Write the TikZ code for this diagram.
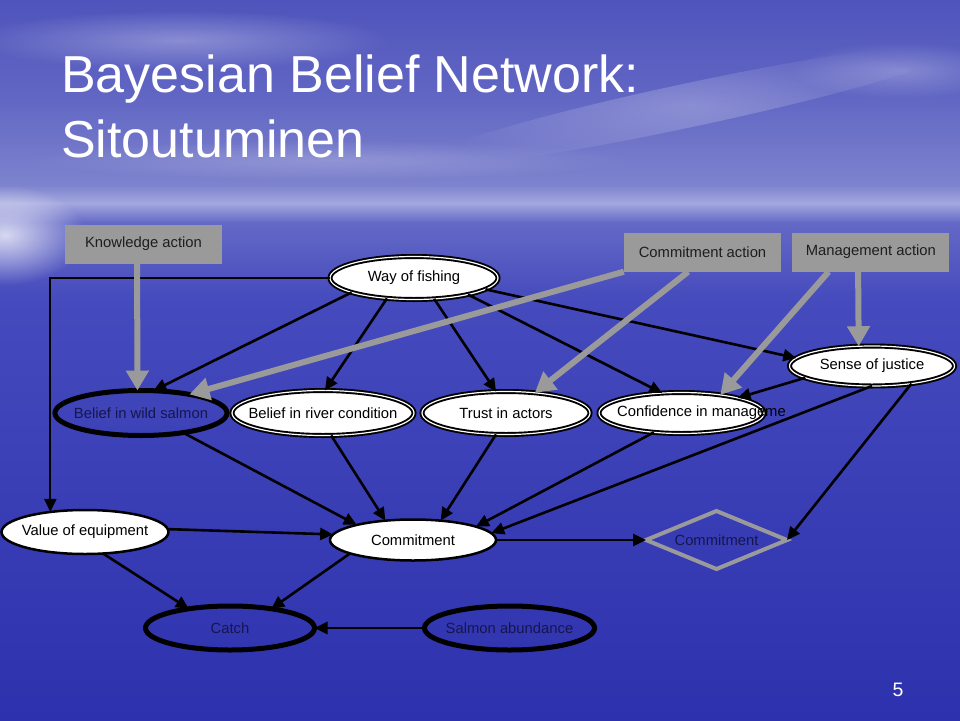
\documentclass[tikz,border=0pt]{standalone}
\usepackage{fontspec}
\setmainfont{Liberation Sans}
\usepackage{tikz}
\usetikzlibrary{arrows.meta,positioning,shapes.geometric,fadings}
\definecolor{boxgray}{HTML}{9A9A9A}
\definecolor{navytext}{HTML}{16164E}
\definecolor{textdark}{HTML}{1E1E1E}
\definecolor{skya}{HTML}{4F54BC}
\definecolor{skyb}{HTML}{6267C4}
\definecolor{skyc}{HTML}{7E83CE}
\definecolor{skyd}{HTML}{A4A8DE}
\definecolor{seaa}{HTML}{6469C6}
\definecolor{seab}{HTML}{454ABD}
\definecolor{seac}{HTML}{2D31AD}
\tikzfading[name=softblob,inner color=transparent!0,outer color=transparent!100]
\newcommand{\netfont}{\fontsize{14.8}{17}\selectfont}
\tikzstyle{chance}=[ellipse,draw=black,double=white,double distance=1.2pt,line width=1.9pt,fill=white,inner sep=0pt,outer sep=0pt]
\tikzstyle{keychance}=[ellipse,draw=black,line width=5pt,inner sep=0pt,outer sep=0pt]
\tikzstyle{simple}=[ellipse,draw=black,line width=2.5pt,fill=white,inner sep=0pt,outer sep=0pt]
\tikzstyle{utility}=[diamond,draw=boxgray,line width=4pt,inner sep=0pt,outer sep=0pt]
\tikzstyle{decision}=[rectangle,fill=boxgray,text=textdark,font=\netfont,
minimum width=157pt,minimum height=39pt,inner sep=0pt]
\tikzstyle{every label}=[font=\netfont,inner sep=0pt]

\begin{document}
\begin{tikzpicture}[x=1pt,y=-1pt,
            barrow/.style={-{Triangle[length=13pt,width=12pt]},line width=2.6pt,draw=black},
            garrow/.style={-{Triangle[length=20pt,width=22pt]},line width=6pt,draw=boxgray}]
            \useasboundingbox (0,0) rectangle (960,720);

            % BACKGROUND PART

            \shade[top color=skya,bottom color=skyb] (0,0) rectangle (960,100.5);
            \shade[top color=skyb,bottom color=skyc] (0,100) rectangle (960,185.5);
            \shade[top color=skyc,bottom color=skyd] (0,185) rectangle (960,203.5);
            \shade[top color=skyd,bottom color=seaa] (0,203) rectangle (960,222.5);
            \shade[top color=seaa,bottom color=seab] (0,222) rectangle (960,300.5);
            \shade[top color=seab,bottom color=seac] (0,300) rectangle (960,720);
            \fill[white,opacity=.3,path fading=softblob] (180,40) ellipse (210 and 30);
            \fill[white,opacity=.2,path fading=softblob] (330,160) ellipse (300 and 20);
            \fill[white,opacity=.25,path fading=softblob,rotate around={12:(690,105)}] (690,105) ellipse (280 and 22);
            \fill[white,opacity=.25,path fading=softblob] (900,70) ellipse (110 and 28);
            \fill[white,opacity=.75,path fading=softblob] (5,235) ellipse (80 and 50);

            % TITLE PART

            \node[anchor=base west,inner sep=0pt,text=white,font=\fontsize{52}{60}\selectfont] (title) at (61,92) {Bayesian Belief Network:};
            \node[anchor=base west,inner sep=0pt,text=white,font=\fontsize{52}{60}\selectfont] (subtitle) at (61,157) {Sitoutuminen};
            \node[text=white,font=\fontsize{19.5}{22}\selectfont] (page) at (898,690) {5};

            % ACTION PART

            \node[decision] (ka) at (143.5,244) {Knowledge action};
            \node[decision] (ca) at (702.5,252) {Commitment action};
            \node[decision,right=11pt of ca] (ma) {Management action};

            % BELIEF PART

            \node[chance,minimum width=168pt,minimum height=43pt,label=center:Way of fishing] (wof) at (414,278) {};
            \node[chance,minimum width=165pt,minimum height=40pt,label=center:Sense of justice] (soj) at (872,366) {};
            \node[keychance,minimum width=172pt,minimum height=45pt,label={[text=navytext]center:Belief in wild salmon}] (bws) at (141,413) {};
            \node[chance,right=5pt of bws,minimum width=182pt,minimum height=45pt,label=center:Belief in river condition] (brc) {};
            \node[chance,right=8pt of brc,minimum width=168pt,minimum height=43pt,label=center:Trust in actors] (tia) {};
            \node[chance,right=9pt of tia,minimum width=165pt,minimum height=41pt,label={[xshift=20pt]center:Confidence in manageme}] (cim) {};

            % COMMITMENT PART

            \node[simple,minimum width=167pt,minimum height=44pt,label=center:Value of equipment] (voe) at (85,532) {};
            \node[simple,minimum width=166pt,minimum height=41pt,label=center:Commitment] (com) at (413,540) {};
            \node[utility,right=150pt of com,minimum width=141pt,minimum height=58pt,label={[text=navytext]center:Commitment}] (dcom) {};
            \node[keychance,minimum width=169pt,minimum height=44pt,label={[text=navytext]center:Catch}] (catch) at (230,628) {};
            \node[keychance,right=110pt of catch,minimum width=170pt,minimum height=44pt,label={[text=navytext]center:Salmon abundance}] (sab) {};

            % Connections of Way of fishing

            \draw[barrow] (wof.193) -- (bws.61);
            \draw[barrow] (wof.217) -- (brc.85);
            \draw[barrow] (wof.314) -- (tia.115);
            \draw[barrow] (wof.343) -- (cim.134);
            \draw[barrow] (wof.351) -- (soj.174);
            \draw[barrow,line width=2pt] (wof.west) -| (voe.150);

            % Connections of Beliefs

            \draw[barrow] (soj.190) -- (cim.15);
            \draw[barrow] (bws.335) -- (com.165);
            \draw[barrow] (brc.290) -- (com.145);
            \draw[barrow] (tia.245) -- (com.35);
            \draw[barrow] (cim.215) -- (com.12);
            \draw[barrow] (soj.270) -- (com.5);
            \draw[barrow] (soj.336) -- (dcom.east);

            % Connections of Commitment

            \draw[barrow] (voe.2) -- (com.176);
            \draw[barrow] (voe.310) -- (catch.155);
            \draw[barrow] (com.192) -- (catch.25);
            \draw[barrow] (com) -- (dcom);
            \draw[barrow] (sab) -- (catch);

            % Connections of Actions

            \draw[garrow] (ka.252) -- (bws.99);
            \draw[garrow] (ca.south west) -- (bws.21);
            \draw[garrow] (ca.234) -- (tia.35);
            \draw[garrow] (ma.205) -- (cim.25);
            \draw[garrow] (ma.237) -- (soj.124);

        \end{tikzpicture}
\end{document}
